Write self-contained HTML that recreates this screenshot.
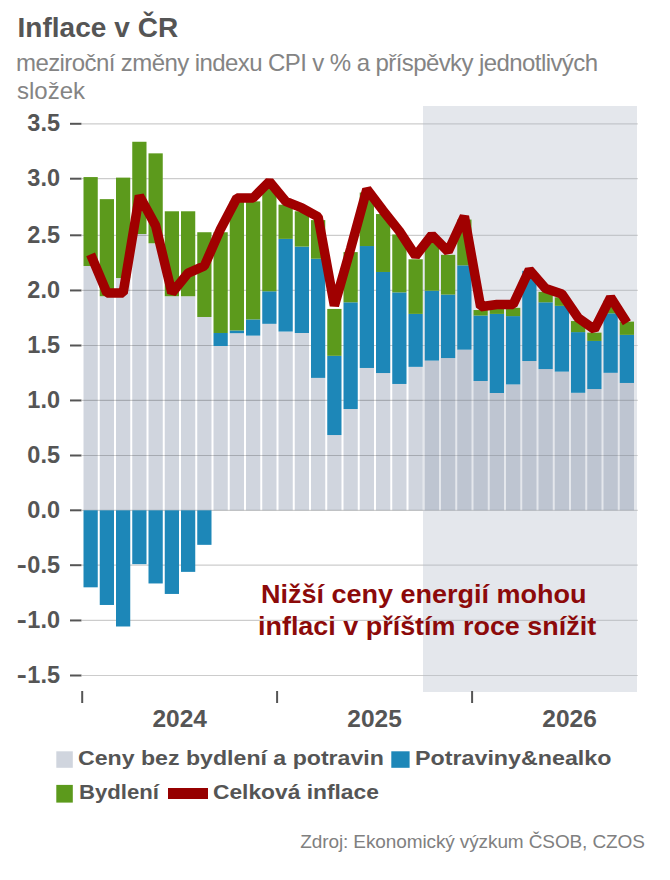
<!DOCTYPE html>
<html><head><meta charset="utf-8"><style>
html,body{margin:0;padding:0;background:#fff;}
body{width:670px;height:880px;position:relative;overflow:hidden;font-family:"Liberation Sans",sans-serif;}
.t{position:absolute;white-space:nowrap;line-height:1;}
.yr{width:100px;text-align:center;font-size:24.5px;font-weight:bold;color:#555555;}
.yl{position:absolute;left:0;width:60px;text-align:right;font-weight:bold;font-size:23.5px;color:#555555;line-height:1;white-space:nowrap;}
</style></head><body>
<svg width="670" height="880" style="position:absolute;left:0;top:0">
<rect x="423" y="106" width="214" height="586" fill="#e4e7ec"/>
<rect x="83.50" y="266.01" width="14.25" height="244.29" fill="rgba(114,129,156,0.333)"/><rect x="99.75" y="296.24" width="14.25" height="214.06" fill="rgba(114,129,156,0.333)"/><rect x="116.00" y="278.03" width="14.25" height="232.27" fill="rgba(114,129,156,0.333)"/><rect x="132.25" y="234.01" width="14.25" height="276.29" fill="rgba(114,129,156,0.333)"/><rect x="148.50" y="243.28" width="14.25" height="267.02" fill="rgba(114,129,156,0.333)"/><rect x="164.75" y="296.24" width="14.25" height="214.06" fill="rgba(114,129,156,0.333)"/><rect x="181.00" y="296.24" width="14.25" height="214.06" fill="rgba(114,129,156,0.333)"/><rect x="197.25" y="316.98" width="14.25" height="193.32" fill="rgba(114,129,156,0.333)"/><rect x="213.50" y="346.00" width="14.25" height="164.30" fill="rgba(114,129,156,0.333)"/><rect x="229.75" y="333.20" width="14.25" height="177.10" fill="rgba(114,129,156,0.333)"/><rect x="246.00" y="335.63" width="14.25" height="174.67" fill="rgba(114,129,156,0.333)"/><rect x="262.25" y="323.83" width="14.25" height="186.47" fill="rgba(114,129,156,0.333)"/><rect x="278.50" y="331.55" width="14.25" height="178.75" fill="rgba(114,129,156,0.333)"/><rect x="294.75" y="332.98" width="14.25" height="177.32" fill="rgba(114,129,156,0.333)"/><rect x="311.00" y="377.89" width="14.25" height="132.41" fill="rgba(114,129,156,0.333)"/><rect x="327.25" y="435.05" width="14.25" height="75.25" fill="rgba(114,129,156,0.333)"/><rect x="343.50" y="409.01" width="14.25" height="101.29" fill="rgba(114,129,156,0.333)"/><rect x="359.75" y="367.96" width="14.25" height="142.34" fill="rgba(114,129,156,0.333)"/><rect x="376.00" y="373.04" width="14.25" height="137.26" fill="rgba(114,129,156,0.333)"/><rect x="392.25" y="383.96" width="14.25" height="126.34" fill="rgba(114,129,156,0.333)"/><rect x="408.50" y="366.86" width="14.25" height="143.44" fill="rgba(114,129,156,0.333)"/><rect x="424.75" y="360.57" width="14.25" height="149.73" fill="rgba(114,129,156,0.333)"/><rect x="441.00" y="358.03" width="14.25" height="152.27" fill="rgba(114,129,156,0.333)"/><rect x="457.25" y="349.64" width="14.25" height="160.66" fill="rgba(114,129,156,0.333)"/><rect x="473.50" y="380.98" width="14.25" height="129.32" fill="rgba(114,129,156,0.333)"/><rect x="489.75" y="393.01" width="14.25" height="117.29" fill="rgba(114,129,156,0.333)"/><rect x="506.00" y="384.40" width="14.25" height="125.90" fill="rgba(114,129,156,0.333)"/><rect x="522.25" y="361.01" width="14.25" height="149.29" fill="rgba(114,129,156,0.333)"/><rect x="538.50" y="369.06" width="14.25" height="141.24" fill="rgba(114,129,156,0.333)"/><rect x="554.75" y="371.60" width="14.25" height="138.70" fill="rgba(114,129,156,0.333)"/><rect x="571.00" y="392.79" width="14.25" height="117.51" fill="rgba(114,129,156,0.333)"/><rect x="587.25" y="389.04" width="14.25" height="121.26" fill="rgba(114,129,156,0.333)"/><rect x="603.50" y="372.82" width="14.25" height="137.48" fill="rgba(114,129,156,0.333)"/><rect x="619.75" y="382.97" width="14.25" height="127.33" fill="rgba(114,129,156,0.333)"/>
<line x1="82" y1="123.80" x2="423" y2="123.80" stroke="rgba(0,0,0,0.2)" stroke-width="1.2"/><line x1="423" y1="123.80" x2="638" y2="123.80" stroke="rgba(0,0,0,0.14)" stroke-width="1.2"/><line x1="82" y1="178.70" x2="423" y2="178.70" stroke="rgba(0,0,0,0.2)" stroke-width="1.2"/><line x1="423" y1="178.70" x2="638" y2="178.70" stroke="rgba(0,0,0,0.14)" stroke-width="1.2"/><line x1="82" y1="235.30" x2="423" y2="235.30" stroke="rgba(0,0,0,0.2)" stroke-width="1.2"/><line x1="423" y1="235.30" x2="638" y2="235.30" stroke="rgba(0,0,0,0.14)" stroke-width="1.2"/><line x1="82" y1="290.45" x2="423" y2="290.45" stroke="rgba(0,0,0,0.2)" stroke-width="1.2"/><line x1="423" y1="290.45" x2="638" y2="290.45" stroke="rgba(0,0,0,0.14)" stroke-width="1.2"/><line x1="82" y1="345.50" x2="423" y2="345.50" stroke="rgba(0,0,0,0.2)" stroke-width="1.2"/><line x1="423" y1="345.50" x2="638" y2="345.50" stroke="rgba(0,0,0,0.14)" stroke-width="1.2"/><line x1="82" y1="400.45" x2="423" y2="400.45" stroke="rgba(0,0,0,0.2)" stroke-width="1.2"/><line x1="423" y1="400.45" x2="638" y2="400.45" stroke="rgba(0,0,0,0.14)" stroke-width="1.2"/><line x1="82" y1="455.50" x2="423" y2="455.50" stroke="rgba(0,0,0,0.2)" stroke-width="1.2"/><line x1="423" y1="455.50" x2="638" y2="455.50" stroke="rgba(0,0,0,0.14)" stroke-width="1.2"/><line x1="82" y1="510.30" x2="423" y2="510.30" stroke="rgba(0,0,0,0.2)" stroke-width="1.2"/><line x1="423" y1="510.30" x2="638" y2="510.30" stroke="rgba(0,0,0,0.14)" stroke-width="1.2"/><line x1="82" y1="565.20" x2="423" y2="565.20" stroke="rgba(0,0,0,0.2)" stroke-width="1.2"/><line x1="423" y1="565.20" x2="638" y2="565.20" stroke="rgba(0,0,0,0.14)" stroke-width="1.2"/><line x1="82" y1="620.45" x2="423" y2="620.45" stroke="rgba(0,0,0,0.2)" stroke-width="1.2"/><line x1="423" y1="620.45" x2="638" y2="620.45" stroke="rgba(0,0,0,0.14)" stroke-width="1.2"/><line x1="82" y1="675.50" x2="423" y2="675.50" stroke="rgba(0,0,0,0.2)" stroke-width="1.2"/><line x1="423" y1="675.50" x2="638" y2="675.50" stroke="rgba(0,0,0,0.14)" stroke-width="1.2"/>
<rect x="83.50" y="177.07" width="14.25" height="88.93" fill="#5c9a1c"/><rect x="83.50" y="510.30" width="14.25" height="77.02" fill="#1d87b8"/><rect x="99.75" y="199.14" width="14.25" height="97.10" fill="#5c9a1c"/><rect x="99.75" y="510.30" width="14.25" height="94.67" fill="#1d87b8"/><rect x="116.00" y="177.62" width="14.25" height="100.41" fill="#5c9a1c"/><rect x="116.00" y="510.30" width="14.25" height="116.19" fill="#1d87b8"/><rect x="132.25" y="141.76" width="14.25" height="92.24" fill="#5c9a1c"/><rect x="132.25" y="510.30" width="14.25" height="53.85" fill="#1d87b8"/><rect x="148.50" y="153.35" width="14.25" height="89.93" fill="#5c9a1c"/><rect x="148.50" y="510.30" width="14.25" height="73.16" fill="#1d87b8"/><rect x="164.75" y="211.28" width="14.25" height="84.96" fill="#5c9a1c"/><rect x="164.75" y="510.30" width="14.25" height="83.64" fill="#1d87b8"/><rect x="181.00" y="211.28" width="14.25" height="84.96" fill="#5c9a1c"/><rect x="181.00" y="510.30" width="14.25" height="61.57" fill="#1d87b8"/><rect x="197.25" y="232.24" width="14.25" height="84.74" fill="#5c9a1c"/><rect x="197.25" y="510.30" width="14.25" height="34.54" fill="#1d87b8"/><rect x="213.50" y="332.98" width="14.25" height="13.02" fill="#1d87b8"/><rect x="213.50" y="232.24" width="14.25" height="100.74" fill="#5c9a1c"/><rect x="229.75" y="330.45" width="14.25" height="2.76" fill="#1d87b8"/><rect x="229.75" y="201.35" width="14.25" height="129.10" fill="#5c9a1c"/><rect x="246.00" y="319.41" width="14.25" height="16.22" fill="#1d87b8"/><rect x="246.00" y="201.35" width="14.25" height="118.06" fill="#5c9a1c"/><rect x="262.25" y="291.28" width="14.25" height="32.55" fill="#1d87b8"/><rect x="262.25" y="184.80" width="14.25" height="106.48" fill="#5c9a1c"/><rect x="278.50" y="238.86" width="14.25" height="92.69" fill="#1d87b8"/><rect x="278.50" y="204.66" width="14.25" height="34.21" fill="#5c9a1c"/><rect x="294.75" y="246.59" width="14.25" height="86.40" fill="#1d87b8"/><rect x="294.75" y="211.28" width="14.25" height="35.31" fill="#5c9a1c"/><rect x="311.00" y="258.72" width="14.25" height="119.17" fill="#1d87b8"/><rect x="311.00" y="220.11" width="14.25" height="38.62" fill="#5c9a1c"/><rect x="327.25" y="355.82" width="14.25" height="79.22" fill="#1d87b8"/><rect x="327.25" y="308.93" width="14.25" height="46.89" fill="#5c9a1c"/><rect x="343.50" y="302.31" width="14.25" height="106.70" fill="#1d87b8"/><rect x="343.50" y="252.10" width="14.25" height="50.20" fill="#5c9a1c"/><rect x="359.75" y="246.04" width="14.25" height="121.93" fill="#1d87b8"/><rect x="359.75" y="192.52" width="14.25" height="53.51" fill="#5c9a1c"/><rect x="376.00" y="271.97" width="14.25" height="101.07" fill="#1d87b8"/><rect x="376.00" y="214.04" width="14.25" height="57.93" fill="#5c9a1c"/><rect x="392.25" y="292.38" width="14.25" height="91.58" fill="#1d87b8"/><rect x="392.25" y="234.45" width="14.25" height="57.93" fill="#5c9a1c"/><rect x="408.50" y="313.89" width="14.25" height="52.96" fill="#1d87b8"/><rect x="408.50" y="259.28" width="14.25" height="54.62" fill="#5c9a1c"/><rect x="424.75" y="290.72" width="14.25" height="69.85" fill="#1d87b8"/><rect x="424.75" y="238.31" width="14.25" height="52.41" fill="#5c9a1c"/><rect x="441.00" y="294.59" width="14.25" height="63.45" fill="#1d87b8"/><rect x="441.00" y="254.86" width="14.25" height="39.72" fill="#5c9a1c"/><rect x="457.25" y="265.35" width="14.25" height="84.30" fill="#1d87b8"/><rect x="457.25" y="219.55" width="14.25" height="45.79" fill="#5c9a1c"/><rect x="473.50" y="315.55" width="14.25" height="65.43" fill="#1d87b8"/><rect x="473.50" y="310.03" width="14.25" height="5.52" fill="#5c9a1c"/><rect x="489.75" y="313.89" width="14.25" height="79.11" fill="#1d87b8"/><rect x="489.75" y="307.83" width="14.25" height="6.07" fill="#5c9a1c"/><rect x="506.00" y="316.10" width="14.25" height="68.30" fill="#1d87b8"/><rect x="506.00" y="307.83" width="14.25" height="8.28" fill="#5c9a1c"/><rect x="522.25" y="270.86" width="14.25" height="90.15" fill="#1d87b8"/><rect x="538.50" y="302.31" width="14.25" height="66.76" fill="#1d87b8"/><rect x="538.50" y="291.83" width="14.25" height="10.48" fill="#5c9a1c"/><rect x="554.75" y="305.84" width="14.25" height="65.76" fill="#1d87b8"/><rect x="554.75" y="297.34" width="14.25" height="8.50" fill="#5c9a1c"/><rect x="571.00" y="332.10" width="14.25" height="60.69" fill="#1d87b8"/><rect x="571.00" y="321.07" width="14.25" height="11.03" fill="#5c9a1c"/><rect x="587.25" y="340.93" width="14.25" height="48.11" fill="#1d87b8"/><rect x="587.25" y="332.65" width="14.25" height="8.28" fill="#5c9a1c"/><rect x="603.50" y="313.34" width="14.25" height="59.47" fill="#1d87b8"/><rect x="603.50" y="300.65" width="14.25" height="12.69" fill="#5c9a1c"/><rect x="619.75" y="334.86" width="14.25" height="48.11" fill="#1d87b8"/><rect x="619.75" y="321.62" width="14.25" height="13.24" fill="#5c9a1c"/>
<line x1="70" y1="123.80" x2="81.5" y2="123.80" stroke="#555555" stroke-width="2"/><line x1="70" y1="178.70" x2="81.5" y2="178.70" stroke="#555555" stroke-width="2"/><line x1="70" y1="235.30" x2="81.5" y2="235.30" stroke="#555555" stroke-width="2"/><line x1="70" y1="290.45" x2="81.5" y2="290.45" stroke="#555555" stroke-width="2"/><line x1="70" y1="345.50" x2="81.5" y2="345.50" stroke="#555555" stroke-width="2"/><line x1="70" y1="400.45" x2="81.5" y2="400.45" stroke="#555555" stroke-width="2"/><line x1="70" y1="455.50" x2="81.5" y2="455.50" stroke="#555555" stroke-width="2"/><line x1="70" y1="510.30" x2="81.5" y2="510.30" stroke="#555555" stroke-width="2"/><line x1="70" y1="565.20" x2="81.5" y2="565.20" stroke="#555555" stroke-width="2"/><line x1="70" y1="620.45" x2="81.5" y2="620.45" stroke="#555555" stroke-width="2"/><line x1="70" y1="675.50" x2="81.5" y2="675.50" stroke="#555555" stroke-width="2"/>
<line x1="82.2" y1="691" x2="82.2" y2="703" stroke="#555555" stroke-width="2"/><line x1="277.1" y1="691" x2="277.1" y2="703" stroke="#555555" stroke-width="2"/><line x1="472.1" y1="691" x2="472.1" y2="703" stroke="#555555" stroke-width="2"/>
<polyline points="90.62,254.31 106.88,292.93 123.12,292.93 139.38,195.83 155.62,225.62 171.88,292.93 188.12,273.07 204.38,265.90 220.62,228.93 236.88,198.04 253.12,198.04 269.38,181.49 285.62,201.35 301.88,207.97 318.12,216.80 334.38,305.62 350.62,248.79 366.88,189.21 383.12,210.73 399.38,231.14 415.62,255.97 431.88,235.00 448.12,251.55 464.38,216.24 480.62,306.72 496.88,304.52 513.12,304.52 529.38,269.76 545.62,288.52 561.88,294.03 578.12,317.76 594.38,329.34 610.62,297.34 626.88,322.72" fill="none" stroke="#a00000" stroke-width="9.5" stroke-linejoin="bevel" stroke-linecap="butt"/>
<rect x="56.3" y="751.3" width="16.5" height="16.5" fill="rgba(114,129,156,0.333)"/>
<rect x="391.3" y="751.3" width="18.3" height="16.5" fill="#1d87b8"/>
<rect x="56.3" y="784.9" width="16.5" height="17.7" fill="#5c9a1c"/>
<rect x="168" y="788" width="40" height="11" fill="#960000"/>
</svg>
<div class="t" id="title" style="left:17.4px;top:14.19px;font-size:28px;font-weight:bold;color:#555555;letter-spacing:0.055px;">Inflace v ČR</div><div class="t" id="sub1" style="left:16.0px;top:50.68px;font-size:24px;font-weight:normal;color:#848484;letter-spacing:-0.585px;">meziroční změny indexu CPI v % a příspěvky jednotlivých</div><div class="t" id="sub2" style="left:17.0px;top:79.28px;font-size:24px;font-weight:normal;color:#848484;letter-spacing:0.0px;">složek</div><div class="t" id="ann1" style="left:260.84px;top:581.83px;font-size:25px;font-weight:bold;color:#8c0a0a;transform:scaleX(1.0799);transform-origin:0 0;">Nižší ceny energií mohou</div><div class="t" id="ann2" style="left:257.85px;top:614.23px;font-size:25px;font-weight:bold;color:#8c0a0a;transform:scaleX(1.0769);transform-origin:0 0;">inflaci v příštím roce snížit</div><div class="t" id="leg1" style="left:78.40px;top:747.42px;font-size:21px;font-weight:bold;color:#555555;transform:scaleX(1.1014);transform-origin:0 0;">Ceny bez bydlení a potravin</div><div class="t" id="leg2" style="left:414.59px;top:747.42px;font-size:21px;font-weight:bold;color:#555555;transform:scaleX(1.1074);transform-origin:0 0;">Potraviny&amp;nealko</div><div class="t" id="leg3" style="left:79.15px;top:781.12px;font-size:21px;font-weight:bold;color:#555555;transform:scaleX(1.0547);transform-origin:0 0;">Bydlení</div><div class="t" id="leg4" style="left:212.72px;top:781.12px;font-size:21px;font-weight:bold;color:#555555;transform:scaleX(1.0848);transform-origin:0 0;">Celková inflace</div><div class="t" id="src" style="left:300.3px;top:832.41px;font-size:19px;font-weight:normal;color:#808080;letter-spacing:-0.112px;">Zdroj: Ekonomický výzkum ČSOB, CZOS</div>
<div class="yl" style="top:112.32px">3.5</div><div class="yl" style="top:167.22px">3.0</div><div class="yl" style="top:223.82px">2.5</div><div class="yl" style="top:278.97px">2.0</div><div class="yl" style="top:334.02px">1.5</div><div class="yl" style="top:388.97px">1.0</div><div class="yl" style="top:444.02px">0.5</div><div class="yl" style="top:498.82px">0.0</div><div class="yl" style="top:553.72px"><span style="display:inline-block;transform:scaleX(1.28);transform-origin:100% 50%;margin-right:0.8px">-</span>0.5</div><div class="yl" style="top:608.97px"><span style="display:inline-block;transform:scaleX(1.28);transform-origin:100% 50%;margin-right:0.8px">-</span>1.0</div><div class="yl" style="top:664.02px"><span style="display:inline-block;transform:scaleX(1.28);transform-origin:100% 50%;margin-right:0.8px">-</span>1.5</div>
<div class="t yr" style="left:129.7px;top:707.06px;">2024</div><div class="t yr" style="left:324.6px;top:707.06px;">2025</div><div class="t yr" style="left:519.6px;top:707.06px;">2026</div>
</body></html>
